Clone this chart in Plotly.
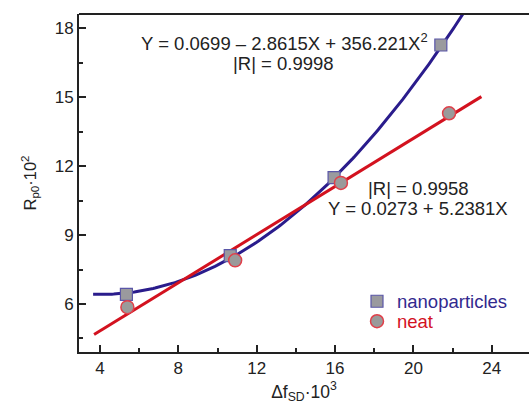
import numpy as np
import plotly.graph_objects as go

# Data
nano_x = [5.35, 10.65, 15.95, 21.4]
nano_y = [6.42, 8.1, 11.5, 17.27]
neat_x = [5.4, 10.9, 16.3, 21.82]
neat_y = [5.86, 7.9, 11.27, 14.3]

# Fit coefficients printed on the chart (Y in 1e-2 units, X in 1e-3 units)
quad_coef = [0.0699, -2.8615, 356.221]
lin_coef = [0.0273, 5.2381]
quad_span = [3.65, 22.7]
lin_span = [3.7, 23.47]

x_ticks = [4, 8, 12, 16, 20, 24]
y_ticks = [6, 9, 12, 15, 18]

BLUE = "#2a1c8c"
RED = "#d3121f"
FONT = "Liberation Sans, Arial, sans-serif"
ANN = 18.5

xq = np.linspace(quad_span[0], quad_span[1], 200)
Xq = xq / 1000.0
yq = (quad_coef[0] + quad_coef[1] * Xq + quad_coef[2] * Xq ** 2) * 100
xl = np.array(lin_span)
yl = (lin_coef[0] + lin_coef[1] * xl / 1000.0) * 100

L, T, W, H = 79, 14, 450, 338


def px2paper(px, py):
    return (px - L) / W, 1 - (py - T) / H


fig = go.Figure()
fig.add_trace(go.Scatter(x=xq, y=yq, mode="lines", line=dict(color=BLUE, width=3),
                         showlegend=False, hoverinfo="skip"))
fig.add_trace(go.Scatter(x=xl, y=yl, mode="lines", line=dict(color=RED, width=3),
                         showlegend=False, hoverinfo="skip"))
fig.add_trace(go.Scatter(x=nano_x, y=nano_y, mode="markers", legend="legend",
                         name="<span style='color:#32298e'>nanoparticles</span>",
                         marker=dict(symbol="square", size=12, color="#9a9a9e",
                                     line=dict(color="#5a56a8", width=1.2))))
fig.add_trace(go.Scatter(x=neat_x, y=neat_y, mode="markers", legend="legend2",
                         name="<span style='color:#d3121f'>neat</span>",
                         marker=dict(symbol="circle", size=13, color="#9a9a9a",
                                     line=dict(color="#e0404a", width=1.5))))

axis_common = dict(showline=True, linecolor="#222", linewidth=2, ticks="inside",
                   tickcolor="#222", tickwidth=1.5, ticklen=7, showgrid=False,
                   zeroline=False, tickfont=dict(family=FONT, size=17, color="#222"),
                   mirror=False)

lx1, ly1 = px2paper(357, 301.7)
lx2, ly2 = px2paper(357, 321.7)
legend_common = dict(xanchor="left", yanchor="middle", font=dict(family=FONT, size=ANN),
                     bgcolor="rgba(0,0,0,0)", itemwidth=30, borderwidth=0)

anns = []
for text, px, py in [("Y = 0.0699 – 2.8615X + 356.221X<sup>2</sup>", 284, 42),
                     ("|R| = 0.9998", 283, 64),
                     ("|R| = 0.9958", 418, 188),
                     ("Y = 0.0273 + 5.2381X", 418, 208)]:
    ax, ay = px2paper(px, py)
    anns.append(dict(text=text, x=ax, y=ay, xref="paper", yref="paper", showarrow=False,
                     xanchor="center", yanchor="middle",
                     font=dict(family=FONT, size=ANN, color="#222")))

fig.update_layout(
    width=529, height=410,
    margin=dict(l=L, r=0, t=T, b=58),
    paper_bgcolor="white", plot_bgcolor="white",
    font=dict(family=FONT, color="#222"),
    xaxis=dict(range=[2.93, 25.9], tickvals=x_ticks,
               minor=dict(ticks="inside", ticklen=4, tickcolor="#222", tickwidth=1.5, dtick=2, tick0=0),
               title=dict(text="Δf<sub>SD</sub>·10<sup>3</sup>", font=dict(family=FONT, size=17.5), standoff=8),
               **axis_common),
    yaxis=dict(range=[3.91, 18.62], tickvals=y_ticks,
               minor=dict(ticks="inside", ticklen=4, tickcolor="#222", tickwidth=1.5, dtick=1.5, tick0=0),
               title=dict(text="R<sub>p0</sub>·10<sup>2</sup>", font=dict(family=FONT, size=16.5), standoff=14),
               **axis_common),
    legend=dict(x=lx1, y=ly1, **legend_common),
    legend2=dict(x=lx2, y=ly2, **legend_common),
    shapes=[dict(type="line", xref="paper", yref="paper", x0=0, x1=1, y0=1, y1=1,
                 line=dict(color="#222", width=2))],
    annotations=anns,
)

fig.write_html("out.html")
